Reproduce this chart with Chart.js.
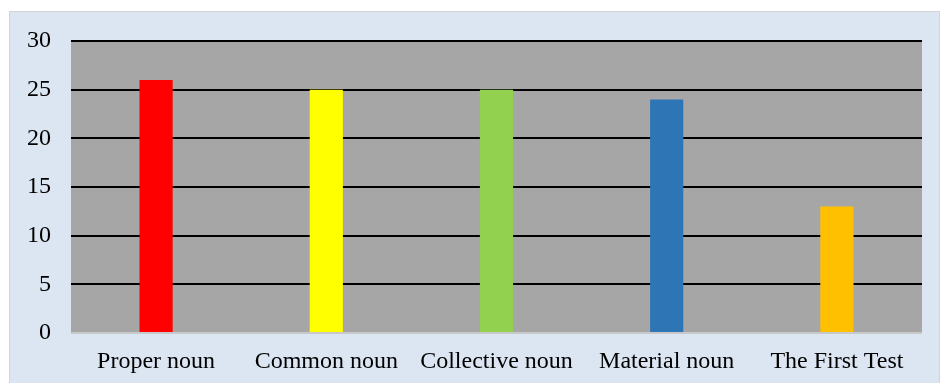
<!DOCTYPE html>
<html>
<head>
<meta charset="utf-8">
<script src="https://cdn.jsdelivr.net/npm/chart.js@4/dist/chart.umd.min.js"></script>
<style>
  html, body { margin: 0; padding: 0; background: #ffffff; }
  #wrap { position: relative; width: 942px; height: 383px; }
</style>
</head>
<body>
<div id="wrap"><canvas id="chart" width="942" height="383"></canvas></div>
<script>
// Categories and scores
const categories = ['Proper noun', 'Common noun', 'Collective noun', 'Material noun', 'The First Test'];
const scores = [26, 25, 25, 24, 13];
const barColors = ['#FF0000', '#FFFF00', '#92D050', '#2E75B6', '#FFC000'];
const yTicks = [0, 5, 10, 15, 20, 25, 30];

// Panel background and grey plot area
const backdrop = {
  id: 'backdrop',
  beforeDraw(chart) {
    const ctx = chart.ctx;
    const a = chart.chartArea;
    ctx.save();
    ctx.fillStyle = '#ffffff';
    ctx.fillRect(0, 0, chart.width, chart.height);
    ctx.fillStyle = '#DCE6F2';
    ctx.fillRect(9, 11, 931, chart.height - 11);
    ctx.strokeStyle = '#D4D4D4';
    ctx.lineWidth = 1;
    ctx.strokeRect(9.5, 11.5, 930, chart.height);
    ctx.fillStyle = '#A6A6A6';
    ctx.fillRect(a.left, a.top, a.right - a.left, a.bottom - a.top);
    ctx.restore();
  }
};

const serif = '"Liberation Serif", "Times New Roman", serif';

new Chart(document.getElementById('chart'), {
  type: 'bar',
  data: {
    labels: categories,
    datasets: [{
      data: scores,
      backgroundColor: barColors,
      borderWidth: 0,
      categoryPercentage: 1,
      barPercentage: 0.195
    }]
  },
  options: {
    responsive: false,
    animation: false,
    layout: { padding: { top: 41, right: 20, bottom: 0, left: 0 } },
    plugins: { legend: { display: false }, tooltip: { enabled: false } },
    scales: {
      x: {
        grid: { display: false, drawTicks: false },
        border: { display: false },
        ticks: {
          color: '#000000',
          padding: 14,
          font: { family: serif, size: 24 }
        },
        afterFit(scale) { scale.height = 50; }
      },
      y: {
        min: 0,
        max: 30,
        afterBuildTicks(scale) { scale.ticks = yTicks.map(v => ({ value: v })); },
        grid: {
          drawTicks: false,
          lineWidth: 2,
          color: ctx => (ctx.tick && ctx.tick.value === 0) ? '#C8C8C8' : '#000000'
        },
        border: { display: false },
        ticks: {
          color: '#000000',
          padding: 20,
          font: { family: serif, size: 24 }
        },
        afterFit(scale) { scale.width = 71; }
      }
    }
  },
  plugins: [backdrop]
});
</script>
</body>
</html>
